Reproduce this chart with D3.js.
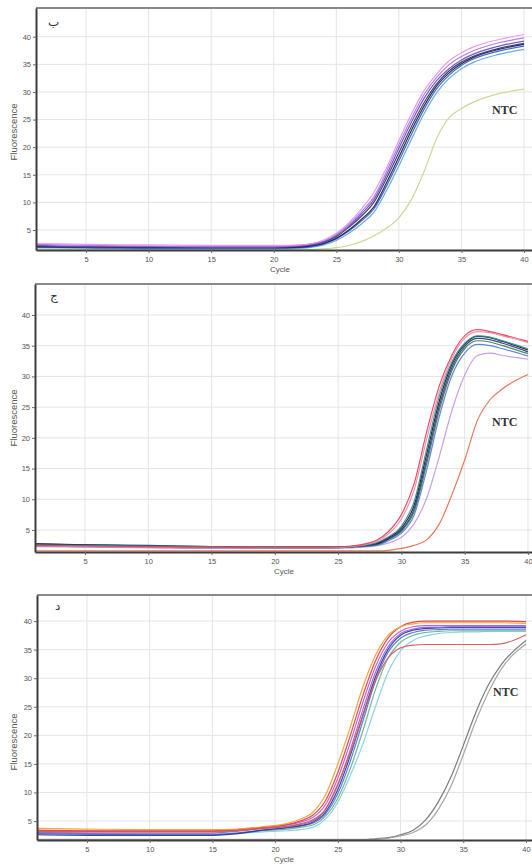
<!DOCTYPE html>
<html><head><meta charset="utf-8">
<script src="https://cdn.jsdelivr.net/npm/d3@7"></script>
<style>
html,body{margin:0;padding:0;background:#fff;}
svg{display:block;}
</style></head>
<body>
<svg id="chart" width="532" height="866"></svg>
<script>
// ---------- DATA ----------
const xTicks = [5,10,15,20,25,30,35,40];
const yTicks = [5,10,15,20,25,30,35,40];
const panelLetters = ["ب","ج","د"];
const ntcLabel = "NTC";
const xTitle = "Cycle";
const yTitle = "Fluorescence";

// Panel b
const p1Cycles = [1,5,10,15,20,22,24,25,26,27,28,29,30,31,32,33,34,35,36,38,40];
const p1Pink   = [2.6,2.4,2.3,2.2,2.2,2.3,3.2,4.4,6.3,8.8,11.8,16.2,21.2,26.0,30.2,33.2,35.6,37.1,38.2,39.5,40.4];
const p1Violet = [2.4,2.2,2.1,2.0,2.0,2.2,3.0,4.2,6.0,8.3,11.0,15.5,20.5,25.2,29.5,32.6,34.9,36.4,37.5,38.9,39.8];
const p1Purple = [2.2,2.0,2.0,1.9,1.9,2.1,2.9,4.0,5.7,7.9,10.5,14.9,19.8,24.5,28.8,32.0,34.2,35.8,36.9,38.3,39.2];
const p1Navy   = [2.1,2.0,1.9,1.9,1.9,2.0,2.8,3.8,5.5,7.5,10.0,14.3,19.0,23.7,28.0,31.4,33.8,35.4,36.5,37.9,38.8];
const p1Black  = [2.0,1.9,1.8,1.8,1.8,1.9,2.6,3.5,5.0,6.9,9.2,13.5,18.2,23.0,27.4,31.0,33.4,35.1,36.3,37.7,38.6];
const p1Blue   = [1.9,1.8,1.7,1.7,1.7,1.8,2.5,3.4,4.8,6.6,8.8,12.9,17.5,22.3,26.8,30.5,33.0,34.8,36.0,37.4,38.3];
const p1Cyan   = [1.8,1.7,1.6,1.6,1.6,1.7,2.3,3.1,4.4,6.1,8.2,12.1,16.6,21.4,26.0,29.8,32.4,34.2,35.4,36.8,37.7];
const p1NTC    = [1.6,1.5,1.5,1.5,1.5,1.5,1.6,1.8,2.2,2.9,3.9,5.3,7.2,10.5,15.5,21.5,25.3,27.0,28.2,29.7,30.5];

// Panel c
const p2Cycles = [1,5,10,15,20,24,26,28,29,30,31,32,33,34,35,36,37,38,40];
const p2Red    = [2.5,2.4,2.3,2.2,2.2,2.2,2.4,3.3,4.8,7.5,12.5,21.0,28.5,33.5,36.6,37.6,37.3,36.8,35.7];
const p2Pink   = [2.4,2.3,2.2,2.1,2.1,2.1,2.3,3.1,4.4,6.8,11.5,19.8,27.5,33.0,36.2,37.3,37.1,36.6,35.5];
const p2Teal   = [2.6,2.5,2.4,2.3,2.2,2.2,2.3,2.9,3.9,5.6,9.6,18.2,26.8,32.4,35.4,36.6,36.4,35.8,34.5];
const p2Black  = [2.7,2.6,2.4,2.3,2.2,2.2,2.3,2.8,3.8,5.3,9.0,17.4,26.0,32.0,35.2,36.5,36.3,35.7,34.3];
const p2Navy   = [2.8,2.6,2.5,2.3,2.2,2.2,2.3,2.7,3.6,5.0,8.4,16.5,25.2,31.5,34.9,36.2,36.0,35.4,34.0];
const p2Green  = [2.5,2.4,2.3,2.2,2.1,2.1,2.2,2.6,3.5,4.8,8.0,15.8,24.5,31.0,34.5,35.8,35.6,35.0,33.7];
const p2Blue   = [2.4,2.3,2.2,2.1,2.1,2.1,2.2,2.5,3.3,4.5,7.4,14.8,23.5,30.2,33.8,35.2,35.0,34.5,33.3];
const p2Violet = [2.3,2.2,2.1,2.0,2.0,2.0,2.1,2.4,2.9,3.8,6.0,10.2,17.0,24.5,30.2,33.4,33.8,33.4,32.8];
const p2NTC    = [1.6,1.6,1.6,1.6,1.6,1.6,1.6,1.6,1.7,2.0,2.5,3.4,6.0,10.8,16.4,22.8,26.2,28.0,30.3];

// Panel d
const p3Cycles  = [1,5,10,15,17,19,21,22,23,24,25,26,27,28,29,30,31,32,33,34,35,36,37,38,40];
const p3Orange  = [3.7,3.6,3.5,3.5,3.6,4.0,4.6,5.3,6.5,9.5,15.0,21.5,28.5,34.0,37.5,39.0,39.5,39.7,39.7,39.7,39.7,39.7,39.7,39.7,39.6];
const p3Red     = [3.4,3.3,3.3,3.3,3.5,3.9,4.4,5.0,6.0,8.5,13.5,20.0,27.0,33.0,37.0,39.0,39.8,40.0,40.0,40.0,40.0,40.0,40.0,40.0,39.9];
const p3Magenta = [3.3,3.2,3.2,3.2,3.4,3.8,4.3,4.8,5.6,7.8,12.5,18.8,25.8,32.0,36.2,38.2,39.0,39.2,39.2,39.2,39.2,39.2,39.2,39.2,39.2];
const p3Purple  = [3.0,2.9,2.9,2.9,3.2,3.7,4.1,4.5,5.2,7.0,11.3,17.5,24.5,31.0,35.5,37.8,38.6,38.9,38.9,39.0,39.0,39.0,39.0,39.0,39.0];
const p3Navy    = [2.6,2.5,2.5,2.5,2.8,3.4,3.9,4.2,4.8,6.5,10.5,16.5,23.5,30.2,35.0,37.5,38.4,38.7,38.8,38.9,38.9,38.9,38.9,38.9,38.9];
const p3Blue    = [2.8,2.7,2.6,2.6,2.9,3.4,3.8,4.1,4.6,6.2,9.8,15.5,22.5,29.5,34.5,37.0,38.0,38.4,38.5,38.6,38.6,38.6,38.6,38.6,38.6];
const p3Green   = [2.9,2.8,2.7,2.7,2.9,3.3,3.6,3.9,4.3,5.8,9.0,14.2,20.8,28.0,33.5,36.3,37.5,38.0,38.2,38.3,38.3,38.3,38.3,38.3,38.3];
const p3Cyan    = [2.7,2.6,2.6,2.6,2.8,3.1,3.3,3.5,3.9,5.3,8.3,13.0,18.5,25.0,31.0,34.8,36.6,37.4,37.8,38.0,38.1,38.1,38.2,38.2,38.2];
const p3Lower   = [3.2,3.1,3.1,3.1,3.3,3.7,4.0,4.4,5.0,7.0,11.5,17.0,23.5,29.5,33.5,35.3,35.8,35.9,35.9,35.9,35.9,35.9,35.9,36.0,37.6];
const p3NTC     = [1.8,1.8,1.8,1.8,1.8,1.8,1.8,1.8,1.8,1.8,1.8,1.8,1.8,1.8,2.0,2.4,3.0,4.3,7.0,11.0,16.6,22.5,27.5,31.5,36.0];
const p3NTC2    = [1.7,1.7,1.7,1.7,1.7,1.7,1.7,1.7,1.7,1.7,1.7,1.7,1.7,1.9,2.1,2.6,3.4,5.2,8.3,12.6,18.2,24.0,28.8,32.3,36.6];

// ---------- LAYOUT / STYLE ----------
const panels = [
  { cycles:p1Cycles, xDom:[1,40.64], yDom:[1.38,45.2], left:36, right:532, top:8, bottom:250,
    yTitleY:132, xTitleX:280, xTitleY:272, letterX:48, letterY:26, ntc:[492,114],
    series:[[p1NTC,"#c9d58f"],[p1Cyan,"#5aa8d4"],[p1Blue,"#3a58d6"],[p1Black,"#1e1e2a"],[p1Navy,"#2a3478"],
            [p1Purple,"#6e4cb4"],[p1Violet,"#a676e4"],[p1Pink,"#e890e6"]] },
  { cycles:p2Cycles, xDom:[1.05,40.32], yDom:[1.42,45.04], left:35, right:532, top:284, bottom:552,
    yTitleY:418, xTitleX:284, xTitleY:574, letterX:50, letterY:300, ntc:[492,426],
    series:[[p2NTC,"#e0704a"],[p2Violet,"#c596e6"],[p2Blue,"#5878d8"],[p2Green,"#3a7c50"],[p2Navy,"#283a80"],
            [p2Black,"#1c1c24"],[p2Teal,"#2a9090"],[p2Pink,"#f08aa8"],[p2Red,"#e4405c"]] },
  { cycles:p3Cycles, xDom:[1.02,40.48], yDom:[1.68,44.56], left:37, right:532, top:595, bottom:840,
    yTitleY:742, xTitleX:284, xTitleY:862, letterX:55, letterY:610, ntc:[493,696],
    series:[[p3NTC2,"#707070"],[p3NTC,"#a0a0a0"],[p3Cyan,"#86cce4"],[p3Green,"#64b486"],[p3Blue,"#4a70e2"],
            [p3Navy,"#2e3a94"],[p3Purple,"#8a62d4"],[p3Magenta,"#c454c4"],[p3Lower,"#d45a5a"],
            [p3Red,"#e23a3a"],[p3Orange,"#f0a030"]] }
];

const svg = d3.select("#chart");
const sans = "'Liberation Sans', Arial, sans-serif";

panels.forEach((p, i) => {
  const x = d3.scaleLinear().domain(p.xDom).range([p.left, p.right]);
  const y = d3.scaleLinear().domain(p.yDom).range([p.bottom, p.top]);
  const g = svg.append("g");

  const cid = "clip" + i;
  svg.append("clipPath").attr("id", cid).append("rect")
    .attr("x", p.left).attr("y", p.top).attr("width", p.right - p.left).attr("height", p.bottom - p.top);

  // grid
  g.append("g").selectAll("line").data(xTicks).join("line")
    .attr("x1", d => x(d)).attr("x2", d => x(d)).attr("y1", p.top).attr("y2", p.bottom)
    .attr("stroke", "#e4e4e4").attr("stroke-width", 1);
  g.append("g").selectAll("line").data(yTicks).join("line")
    .attr("x1", p.left).attr("x2", p.right).attr("y1", d => y(d)).attr("y2", d => y(d))
    .attr("stroke", "#e4e4e4").attr("stroke-width", 1);

  // curves
  const line = d3.line()
    .x((d, k) => x(p.cycles[k]))
    .y(d => y(d))
    .curve(d3.curveMonotoneX);
  const cg = g.append("g").attr("clip-path", `url(#${cid})`);
  p.series.forEach(([vals, col]) => {
    cg.append("path").attr("d", line(vals)).attr("fill", "none")
      .attr("stroke", col).attr("stroke-width", 1.2).attr("stroke-opacity", 0.92);
  });

  // top border
  g.append("line").attr("x1", p.left).attr("x2", p.right).attr("y1", p.top).attr("y2", p.top)
    .attr("stroke", "#8a8a8a").attr("stroke-width", 2);

  // axes
  const xa = g.append("g").attr("transform", `translate(0,${p.bottom})`)
    .call(d3.axisBottom(x).tickValues(xTicks).tickSize(3).tickSizeOuter(0).tickPadding(4));
  const ya = g.append("g").attr("transform", `translate(${p.left},0)`)
    .call(d3.axisLeft(y).tickValues(yTicks).tickSize(3).tickSizeOuter(0).tickPadding(2));
  [xa, ya].forEach(a => {
    a.select(".domain").attr("stroke", "#3c3c3c").attr("stroke-width", 2);
    a.selectAll(".tick line").attr("stroke", "#666");
    a.selectAll(".tick text").attr("fill", "#555").style("font-size", "7.5px").style("font-family", sans);
  });

  // titles
  g.append("text").attr("x", p.xTitleX).attr("y", p.xTitleY).attr("text-anchor", "middle")
    .style("font-size", "8px").style("font-family", sans).attr("fill", "#555").text(xTitle);
  g.append("text").attr("transform", `translate(17,${p.yTitleY}) rotate(-90)`).attr("text-anchor", "middle")
    .style("font-size", "9.5px").style("font-family", sans).attr("fill", "#555").text(yTitle);

  // panel letter
  g.append("text").attr("x", p.letterX).attr("y", p.letterY)
    .style("font-size", "12px").style("font-family", "'DejaVu Sans', sans-serif").attr("fill", "#333")
    .text(panelLetters[i]);

  // NTC label
  g.append("text").attr("x", p.ntc[0]).attr("y", p.ntc[1])
    .style("font-size", "12px").style("font-weight", "bold").style("font-family", "'Liberation Serif', 'Times New Roman', serif")
    .attr("fill", "#333").text(ntcLabel);
});
</script>
</body></html>
